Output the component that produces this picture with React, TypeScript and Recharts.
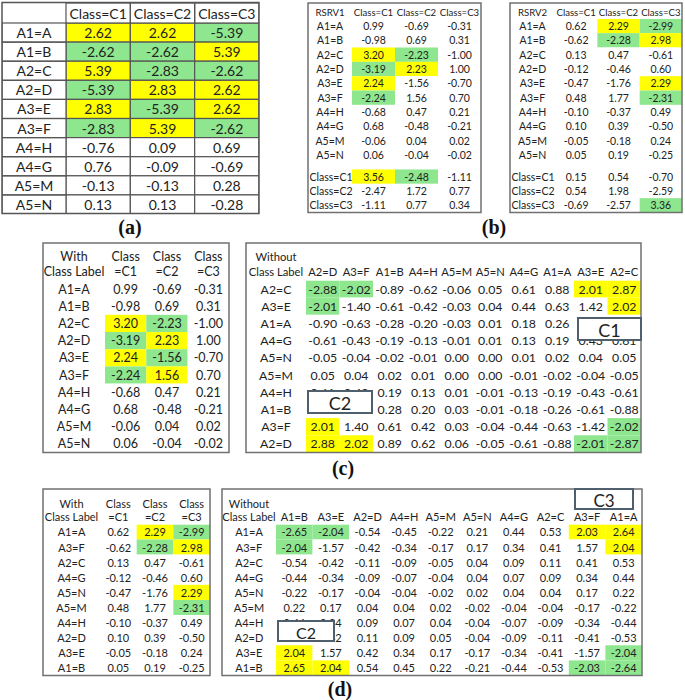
import React from "react";
import { ScatterChart, Scatter, XAxis, YAxis } from "recharts";

const FONT = "Lato, 'Noto Sans', sans-serif";
const YELLOW = "#ffff00";
const GREEN = "#8ee68e";
const INK = "#222";

// ---- (a) ----
const aCols = ["Class=C1", "Class=C2", "Class=C3"];
const aRows = ["A1=A", "A1=B", "A2=C", "A2=D", "A3=E", "A3=F", "A4=H", "A4=G", "A5=M", "A5=N"];
const aValues = [
  [2.62, 2.62, -5.39],
  [-2.62, -2.62, 5.39],
  [5.39, -2.83, -2.62],
  [-5.39, 2.83, 2.62],
  [2.83, -5.39, 2.62],
  [-2.83, 5.39, -2.62],
  [-0.76, 0.09, 0.69],
  [0.76, -0.09, -0.69],
  [-0.13, -0.13, 0.28],
  [0.13, 0.13, -0.28],
];
const aMarks = ["YYG", "GGY", "YGG", "GYY", "YGY", "GYG", "...", "...", "...", "..."];

// ---- (b) ----
const bRows = [...aRows, "Class=C1", "Class=C2", "Class=C3"];
const rsrv1Values = [
  [0.99, -0.69, -0.31],
  [-0.98, 0.69, 0.31],
  [3.2, -2.23, -1.0],
  [-3.19, 2.23, 1.0],
  [2.24, -1.56, -0.7],
  [-2.24, 1.56, 0.7],
  [-0.68, 0.47, 0.21],
  [0.68, -0.48, -0.21],
  [-0.06, 0.04, 0.02],
  [0.06, -0.04, -0.02],
  [3.56, -2.48, -1.11],
  [-2.47, 1.72, 0.77],
  [-1.11, 0.77, 0.34],
];
const rsrv1Marks = ["...", "...", "YG.", "GY.", "Y..", "G..", "...", "...", "...", "...", "YG.", "...", "..."];
const rsrv2Values = [
  [0.62, 2.29, -2.99],
  [-0.62, -2.28, 2.98],
  [0.13, 0.47, -0.61],
  [-0.12, -0.46, 0.6],
  [-0.47, -1.76, 2.29],
  [0.48, 1.77, -2.31],
  [-0.1, -0.37, 0.49],
  [0.1, 0.39, -0.5],
  [-0.05, -0.18, 0.24],
  [0.05, 0.19, -0.25],
  [0.15, 0.54, -0.7],
  [0.54, 1.98, -2.59],
  [-0.69, -2.57, 3.36],
];
const rsrv2Marks = [".YG", ".GY", "...", "...", "..Y", "..G", "...", "...", "...", "...", "...", "...", "..G"];

// ---- (c) ----
const withCols = [["Class", "=C1"], ["Class", "=C2"], ["Class", "=C3"]];
const cLeftValues = rsrv1Values.slice(0, 10);
const cLeftMarks = ["...", "...", "YG.", "GY.", "YG.", "GY.", "...", "...", "...", "..."];
const cRightCols = ["A2=D", "A3=F", "A1=B", "A4=H", "A5=M", "A5=N", "A4=G", "A1=A", "A3=E", "A2=C"];
const cRightRows = ["A2=C", "A3=E", "A1=A", "A4=G", "A5=N", "A5=M", "A4=H", "A1=B", "A3=F", "A2=D"];
const cRightValues = [
  [-2.88, -2.02, -0.89, -0.62, -0.06, 0.05, 0.61, 0.88, 2.01, 2.87],
  [-2.01, -1.4, -0.61, -0.42, -0.03, 0.04, 0.44, 0.63, 1.42, 2.02],
  [-0.9, -0.63, -0.28, -0.2, -0.03, 0.01, 0.18, 0.26, 0.62, 0.89],
  [-0.61, -0.43, -0.19, -0.13, -0.01, 0.01, 0.13, 0.19, 0.43, 0.61],
  [-0.05, -0.04, -0.02, -0.01, 0.0, 0.0, 0.01, 0.02, 0.04, 0.05],
  [0.05, 0.04, 0.02, 0.01, 0.0, 0.0, -0.01, -0.02, -0.04, -0.05],
  [0.61, 0.43, 0.19, 0.13, 0.01, -0.01, -0.13, -0.19, -0.43, -0.61],
  [0.88, 0.62, 0.28, 0.2, 0.03, -0.01, -0.18, -0.26, -0.61, -0.88],
  [2.01, 1.4, 0.61, 0.42, 0.03, -0.04, -0.44, -0.63, -1.42, -2.02],
  [2.88, 2.02, 0.89, 0.62, 0.06, -0.05, -0.61, -0.88, -2.01, -2.87],
];
const cRightMarks = [
  "GG......YY",
  "G........Y",
  "..........",
  "..........",
  "..........",
  "..........",
  "..........",
  "..........",
  "Y........G",
  "YY......GG",
];

// ---- (d) ----
const dRows = ["A1=A", "A3=F", "A2=C", "A4=G", "A5=N", "A5=M", "A4=H", "A2=D", "A3=E", "A1=B"];
const dLeftValues = [
  [0.62, 2.29, -2.99],
  [-0.62, -2.28, 2.98],
  [0.13, 0.47, -0.61],
  [-0.12, -0.46, 0.6],
  [-0.47, -1.76, 2.29],
  [0.48, 1.77, -2.31],
  [-0.1, -0.37, 0.49],
  [0.1, 0.39, -0.5],
  [-0.05, -0.18, 0.24],
  [0.05, 0.19, -0.25],
];
const dLeftMarks = [".YG", ".GY", "...", "...", "..Y", "..G", "...", "...", "...", "..."];
const dRightCols = ["A1=B", "A3=E", "A2=D", "A4=H", "A5=M", "A5=N", "A4=G", "A2=C", "A3=F", "A1=A"];
const dRightValues = [
  [-2.65, -2.04, -0.54, -0.45, -0.22, 0.21, 0.44, 0.53, 2.03, 2.64],
  [-2.04, -1.57, -0.42, -0.34, -0.17, 0.17, 0.34, 0.41, 1.57, 2.04],
  [-0.54, -0.42, -0.11, -0.09, -0.05, 0.04, 0.09, 0.11, 0.41, 0.53],
  [-0.44, -0.34, -0.09, -0.07, -0.04, 0.04, 0.07, 0.09, 0.34, 0.44],
  [-0.22, -0.17, -0.04, -0.04, -0.02, 0.02, 0.04, 0.04, 0.17, 0.22],
  [0.22, 0.17, 0.04, 0.04, 0.02, -0.02, -0.04, -0.04, -0.17, -0.22],
  [0.44, 0.34, 0.09, 0.07, 0.04, -0.04, -0.07, -0.09, -0.34, -0.44],
  [0.54, 0.42, 0.11, 0.09, 0.05, -0.04, -0.09, -0.11, -0.41, -0.53],
  [2.04, 1.57, 0.42, 0.34, 0.17, -0.17, -0.34, -0.41, -1.57, -2.04],
  [2.65, 2.04, 0.54, 0.45, 0.22, -0.21, -0.44, -0.53, -2.03, -2.64],
];
const dRightMarks = [
  "GG......YY",
  "G........Y",
  "..........",
  "..........",
  "..........",
  "..........",
  "..........",
  "..........",
  "Y........G",
  "YY......GG",
];

type Layout = {
  left: number;
  top: number;
  width: number;
  height: number;
  labelW: number;
  headerH: number;
  font: number;
  hFont: number;
  lines: number[];
  grid?: boolean;
  gapAt?: number;
  corner?: string[];
};

const markFill = (m: string) => (m === "Y" ? YELLOW : m === "G" ? GREEN : "#fff");

function Table({ cols, rows, values, marks, L }: { cols: (string | string[])[]; rows: string[]; values: number[][]; marks: string[]; L: Layout }) {
  const span = rows.length + (L.gapAt ? 0.5 : 0);
  const rowPos = (i: number) => (L.gapAt && i >= L.gapAt ? i + 0.5 : i);
  const cw = (L.width - L.labelW) / cols.length;
  const ch = (L.height - L.headerH) / span;
  const gridStroke = L.grid ? "#555" : "none";

  const cells: any[] = [];
  rows.forEach((_, i) =>
    cols.forEach((_, j) => cells.push({ c: j, r: rowPos(i), v: values[i][j], m: marks[i][j] }))
  );

  const CellShape = (p: any) => {
    const { cx, cy, payload } = p;
    return (
      <g>
        <rect x={cx - cw / 2} y={cy - ch / 2} width={cw} height={ch} fill={markFill(payload.m)} stroke={gridStroke} strokeWidth={1.2} />
        <text x={cx} y={cy} textAnchor="middle" dominantBaseline="central" fontSize={L.font} fill={INK} fontFamily={FONT}>
          {payload.v.toFixed(2)}
        </text>
      </g>
    );
  };

  const RowTick = (p: any) => {
    const i = rows.findIndex((_, k) => Math.abs(rowPos(k) - p.payload.value) < 1e-6);
    const label = rows[i] ?? "";
    const leftAlign = !!L.gapAt && label.startsWith("Class");
    return (
      <g>
        {L.grid && <rect x={0} y={p.y - ch / 2} width={L.labelW} height={ch} fill="none" stroke={gridStroke} strokeWidth={1.2} />}
        <text
          x={leftAlign ? 1.5 : L.labelW / 2}
          y={p.y}
          textAnchor={leftAlign ? "start" : "middle"}
          dominantBaseline="central"
          fontSize={L.font}
          fill={INK}
          fontFamily={FONT}
        >
          {label}
        </text>
      </g>
    );
  };

  const ColTick = (p: any) => {
    const h = cols[p.payload.value];
    const arr = Array.isArray(h) ? h : [h];
    const ys = L.lines.slice(L.lines.length - arr.length);
    return (
      <g>
        {L.grid && <rect x={p.x - cw / 2} y={0} width={cw} height={L.headerH} fill="none" stroke={gridStroke} strokeWidth={1.2} />}
        {arr.map((t, k) => (
          <text key={k} x={p.x} y={ys[k]} textAnchor="middle" dominantBaseline="central" fontSize={L.hFont} fill={INK} fontFamily={FONT}>
            {t}
          </text>
        ))}
      </g>
    );
  };

  return (
    <div style={{ position: "absolute", left: L.left, top: L.top, width: L.width, height: L.height }}>
      <ScatterChart width={L.width} height={L.height} margin={{ top: 0, right: 0, bottom: 0, left: 0 }}>
        <XAxis
          type="number"
          dataKey="c"
          orientation="top"
          domain={[-0.5, cols.length - 0.5]}
          ticks={cols.map((_, j) => j)}
          height={L.headerH}
          tick={ColTick}
          axisLine={false}
          tickLine={false}
          tickSize={0}
          tickMargin={0}
          interval={0}
          allowDataOverflow
        />
        <YAxis
          type="number"
          dataKey="r"
          reversed
          domain={[-0.5, span - 0.5]}
          ticks={rows.map((_, i) => rowPos(i))}
          width={L.labelW}
          tick={RowTick}
          axisLine={false}
          tickLine={false}
          tickSize={0}
          tickMargin={0}
          interval={0}
          allowDataOverflow
        />
        <Scatter data={cells} shape={CellShape} isAnimationActive={false} />
      </ScatterChart>
    </div>
  );
}

const LA: Layout = { left: 2, top: 2.5, width: 257, height: 211, labelW: 64, headerH: 20, font: 14, hFont: 14, lines: [10.5], grid: true };
const LB1: Layout = { left: 308, top: 3, width: 173, height: 209.5, labelW: 44, headerH: 15.8, font: 10.5, hFont: 9.6, lines: [9], gapAt: 10, corner: ["RSRV1"] };
const LB2: Layout = { left: 510, top: 3, width: 172, height: 209.5, labelW: 45, headerH: 15.8, font: 10.5, hFont: 9.6, lines: [9], gapAt: 10, corner: ["RSRV2"] };
const LC1: Layout = { left: 43, top: 243, width: 186, height: 209.5, labelW: 62, headerH: 37.4, font: 12.5, hFont: 12.5, lines: [13, 28], corner: ["With", "Class Label"] };
const LC2: Layout = { left: 246, top: 243, width: 395, height: 209.5, labelW: 60, headerH: 37.4, font: 12.3, hFont: 11.2, lines: [13, 28], corner: ["Without", "Class Label"] };
const LD1: Layout = { left: 43, top: 489, width: 167, height: 186.5, labelW: 57, headerH: 35.4, font: 11, hFont: 11, lines: [14, 27], corner: ["With", "Class Label"] };
const LD2: Layout = { left: 222, top: 489, width: 420, height: 186.5, labelW: 54, headerH: 35.4, font: 11, hFont: 11, lines: [14, 27], corner: ["Without", "Class Label"] };

const boxes = [
  { t: "C1", x: 578, y: 318, w: 63, h: 22, f: 18 },
  { t: "C2", x: 308, y: 391, w: 64, h: 22, f: 18 },
  { t: "C3", x: 575, y: 489, w: 58, h: 20, f: 17 },
  { t: "C2", x: 278, y: 621, w: 56, h: 20, f: 16 },
];
const panelLabels = [
  { t: "(a)", x: 130, y: 227 },
  { t: "(b)", x: 494, y: 227 },
  { t: "(c)", x: 343, y: 468 },
  { t: "(d)", x: 340, y: 689 },
];

export default function App() {
  const layouts = [LA, LB1, LB2, LC1, LC2, LD1, LD2];
  return (
    <div style={{ position: "absolute", left: 0, top: 0, width: 685, height: 700, background: "#fff", overflow: "hidden" }}>
      <Table cols={aCols} rows={aRows} values={aValues} marks={aMarks} L={LA} />
      <Table cols={aCols} rows={bRows} values={rsrv1Values} marks={rsrv1Marks} L={LB1} />
      <Table cols={aCols} rows={bRows} values={rsrv2Values} marks={rsrv2Marks} L={LB2} />
      <Table cols={withCols} rows={aRows} values={cLeftValues} marks={cLeftMarks} L={LC1} />
      <Table cols={cRightCols} rows={cRightRows} values={cRightValues} marks={cRightMarks} L={LC2} />
      <Table cols={withCols} rows={dRows} values={dLeftValues} marks={dLeftMarks} L={LD1} />
      <Table cols={dRightCols} rows={dRows} values={dRightValues} marks={dRightMarks} L={LD2} />
      <svg width={685} height={700} style={{ position: "absolute", left: 0, top: 0, pointerEvents: "none" }}>
        {layouts.map((L, i) => (
          <g key={i}>
            <rect x={L.left} y={L.top} width={L.width} height={L.height} fill="none" stroke={L.grid ? "#555" : "#707070"} strokeWidth={1.5} />
            {(L.corner || []).map((t, k) => {
              const ys = L.lines.length === L.corner!.length ? L.lines : [L.headerH / 2];
              return (
                <text key={k} x={L.left + L.labelW / 2} y={L.top + ys[k]} textAnchor="middle" dominantBaseline="central" fontSize={L.hFont} fill={INK} fontFamily={FONT}>
                  {t}
                </text>
              );
            })}
          </g>
        ))}
        {boxes.map((b, i) => (
          <g key={i}>
            <rect x={b.x} y={b.y} width={b.w} height={b.h} fill="#fff" stroke="#4f5f6d" strokeWidth={2} />
            <text x={b.x + b.w / 2} y={b.y + b.h / 2 + 1} textAnchor="middle" dominantBaseline="central" fontSize={b.f} fill={INK} fontFamily={FONT}>
              {b.t}
            </text>
          </g>
        ))}
        {panelLabels.map((p, i) => (
          <text key={i} x={p.x} y={p.y} textAnchor="middle" dominantBaseline="central" fontSize={20} fontWeight="bold" fill="#111" fontFamily="'Liberation Serif', 'DejaVu Serif', serif">
            {p.t}
          </text>
        ))}
      </svg>
    </div>
  );
}
